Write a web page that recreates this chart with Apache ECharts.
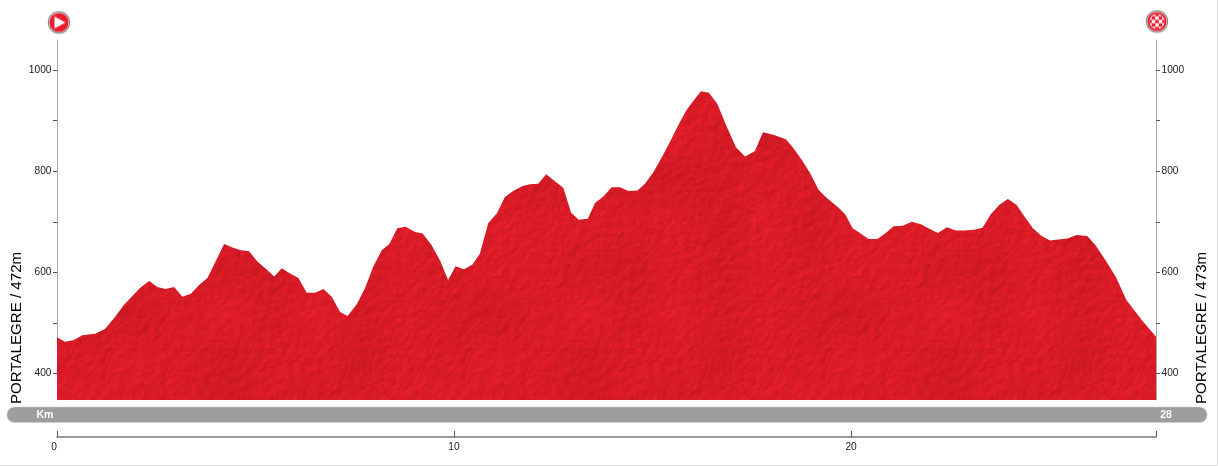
<!DOCTYPE html>
<html>
<head>
<meta charset="utf-8">
<style>html,body{margin:0;padding:0;background:#fff}#c{width:1218px;height:466px}</style>
<script src="https://cdn.jsdelivr.net/npm/echarts@6/dist/echarts.min.js"></script>
</head>
<body>
<div id="c"></div>
<script>
const km = [0,0.20,0.41,0.64,0.96,1.21,1.46,1.69,2.09,2.32,2.53,2.73,2.95,3.16,3.37,3.58,3.79,4.21,4.42,4.63,4.84,5.05,5.26,5.47,5.66,5.87,6.08,6.29,6.50,6.71,6.92,7.13,7.32,7.55,7.76,7.97,8.18,8.37,8.57,8.78,9.02,9.21,9.44,9.65,9.85,10.04,10.25,10.46,10.65,10.86,11.08,11.28,11.49,11.71,11.91,12.12,12.32,12.54,12.75,12.95,13.14,13.37,13.55,13.76,13.97,14.18,14.39,14.62,14.81,15.02,15.23,15.44,15.65,15.86,15.99,16.22,16.42,16.63,16.85,17.10,17.33,17.58,17.78,18.04,18.36,18.55,18.76,18.97,19.18,19.39,19.68,19.85,20.04,20.24,20.44,20.66,20.86,21.07,21.30,21.53,21.76,21.97,22.19,22.41,22.64,22.85,23.10,23.31,23.52,23.73,23.95,24.17,24.38,24.58,24.80,25.01,25.22,25.45,25.68,25.95,26.17,26.40,26.67,26.93,27.32,27.68];
const elevation = [472,463,466,476,479,488,512,536,569,583,571,567,571,552,558,575,589,656,649,644,642,621,607,592,608,598,589,560,560,567,552,522,514,537,569,612,644,656,687,690,680,677,653,623,585,612,606,615,637,697,717,749,761,770,774,775,794,780,767,718,704,706,737,750,768,768,761,762,775,798,827,858,891,921,935,958,955,933,891,847,829,840,877,872,863,845,822,796,763,747,728,715,687,677,666,666,677,691,692,700,695,686,678,689,683,683,684,688,715,733,745,733,709,687,672,663,665,667,674,672,652,625,591,546,506,473];
const yTicks = [400,500,600,700,800,900,1000];
const yLabels = [400,600,800,1000];
const kmTicks = [0,10,20];
const kmMax = 27.68;
const yMin = 348, yMax = 1059;
const startLabel = 'PORTALEGRE / 472m';
const endLabel = 'PORTALEGRE / 473m';
const barLeft = 'Km', barRight = '28';

const FONT = '"Liberation Sans", Arial, sans-serif';

// Decorative paper-grain tile for the profile fill (deterministic).
function makeTexture() {
  const W = 360, H = 360;
  const cv = document.createElement('canvas'); cv.width = W; cv.height = H;
  const ctx = cv.getContext('2d');
  let s = 12345;
  const rnd = () => (s = (s * 1664525 + 1013904223) >>> 0) / 4294967296;
  const field = (step) => {
    const cw = Math.ceil(W / step), ch = Math.ceil(H / step), g = [];
    for (let i = 0; i < cw * ch; i++) g.push(rnd());
    return (x, y) => {
      const fx = x / step, fy = y / step, ix = Math.floor(fx), iy = Math.floor(fy);
      let tx = fx - ix, ty = fy - iy;
      tx = tx * tx * (3 - 2 * tx); ty = ty * ty * (3 - 2 * ty);
      const at = (a, b) => g[((b + ch) % ch) * cw + ((a + cw) % cw)];
      return (at(ix, iy) * (1 - tx) + at(ix + 1, iy) * tx) * (1 - ty) + (at(ix, iy + 1) * (1 - tx) + at(ix + 1, iy + 1) * tx) * ty;
    };
  };
  const f1 = field(3), f2 = field(6), f3 = field(45), f4 = field(30);
  const img = ctx.createImageData(W, H);
  for (let y = 0; y < H; y++) for (let x = 0; x < W; x++) {
    const relief = (f1(x, y) - f1(x + 1, y + 1)) * 24 + (f2(x, y) - f2(x + 2, y + 2)) * 22;
    const crack = (Math.abs(f4(x, y) - 0.5) < 0.007 && f3(x, y) > 0.55) ? -10 : 0;
    const broad = (f3(x, y) - 0.5) * 14;
    const v = relief + crack + broad;
    const i = (y * W + x) * 4;
    img.data[i] = 215 + v;
    img.data[i + 1] = 27 + v * 0.25;
    img.data[i + 2] = 38 + v * 0.3;
    img.data[i + 3] = 255;
  }
  ctx.putImageData(img, 0, 0);
  return cv;
}

function makeStartIcon() {
  const cv = document.createElement('canvas'); cv.width = cv.height = 24;
  const c = cv.getContext('2d');
  c.beginPath(); c.arc(12, 12, 10.6, 0, Math.PI * 2); c.fillStyle = '#fff'; c.fill();
  c.lineWidth = 1.2; c.strokeStyle = '#8a8a8a'; c.stroke();
  c.beginPath(); c.arc(12, 12, 9.6, 0, Math.PI * 2); c.fillStyle = '#ed1c2a'; c.fill();
  c.beginPath(); c.moveTo(7.5, 6.0); c.lineTo(18.5, 12); c.lineTo(7.5, 18); c.closePath(); c.fillStyle = '#fff'; c.fill();
  return cv;
}
function makeFinishIcon() {
  const cv = document.createElement('canvas'); cv.width = cv.height = 24;
  const c = cv.getContext('2d');
  c.beginPath(); c.arc(12, 12, 10.6, 0, Math.PI * 2); c.fillStyle = '#fff'; c.fill();
  c.lineWidth = 1.2; c.strokeStyle = '#8a8a8a'; c.stroke();
  c.save(); c.beginPath(); c.arc(12, 12, 9.6, 0, Math.PI * 2); c.clip();
  c.fillStyle = '#ed1c2a'; c.fillRect(0, 0, 24, 24);
  c.save(); c.beginPath(); c.arc(12, 12, 7.6, 0, Math.PI * 2); c.clip();
  c.fillStyle = '#fff'; c.fillRect(0, 0, 24, 24);
  c.fillStyle = '#ed1c2a';
  for (let r = 0; r < 5; r++) for (let q = 0; q < 5; q++) if ((r + q) % 2 === 0) c.fillRect(3.25 + q * 3.5, 3.25 + r * 3.5, 3.5, 3.5);
  c.restore(); c.restore();
  return cv;
}

const chart = echarts.init(document.getElementById('c'), null, {renderer: 'canvas'});
const yAxisBase = {
  type: 'value', min: yMin, max: yMax,
  splitLine: {show: false},
  axisLine: {show: true, lineStyle: {color: '#aaaaaa', width: 1}},
  axisTick: {show: true, length: 4, customValues: yTicks, lineStyle: {color: '#555555', width: 1}},
  axisLabel: {show: true, customValues: yLabels, margin: 5.5, color: '#222', fontFamily: FONT, fontSize: 10.2, formatter: (v) => String(v)}
};
chart.setOption({
  animation: false,
  backgroundColor: '#fff',
  grid: {left: 57, right: 62, top: 40, bottom: 66},
  xAxis: {
    type: 'value', min: 0, max: kmMax, offset: 37,
    splitLine: {show: false},
    axisLine: {show: true, onZero: false, lineStyle: {color: '#777', width: 1.6}},
    axisTick: {show: true, inside: true, length: 6, customValues: kmTicks.concat([kmMax]), lineStyle: {color: '#555', width: 1}},
    axisLabel: {customValues: kmTicks, margin: 5, color: '#222', fontFamily: FONT, fontSize: 10.2, alignMinLabel: 'right', formatter: (v) => String(v)}
  },
  yAxis: [
    Object.assign({}, yAxisBase, {position: 'left'}),
    Object.assign({}, yAxisBase, {position: 'right'})
  ],
  series: [{
    type: 'line',
    data: km.map((k, i) => [k, elevation[i]]),
    symbol: 'none',
    lineStyle: {width: 0},
    areaStyle: {origin: 'start', opacity: 1, color: {image: makeTexture(), repeat: 'repeat'}},
    silent: true
  }],
  graphic: [
    {type: 'rect', shape: {x: 0, y: 465, width: 1218, height: 1}, style: {fill: '#dddddd'}, silent: true},
    {type: 'rect', shape: {x: 1217, y: 0, width: 1, height: 466}, style: {fill: '#dddddd'}, silent: true},
    {type: 'rect', shape: {x: 7, y: 407, width: 1200, height: 15.5, r: 7.5}, style: {fill: '#9d9d9c', stroke: '#c9c9c9', lineWidth: 0.6}, silent: true},
    {type: 'text', x: 45, y: 415, style: {text: barLeft, fill: '#fff', font: 'bold 10.5px ' + FONT, textAlign: 'center', textVerticalAlign: 'middle'}, silent: true},
    {type: 'text', x: 1166, y: 415, style: {text: barRight, fill: '#fff', font: 'bold 10.5px ' + FONT, textAlign: 'center', textVerticalAlign: 'middle'}, silent: true},
    {type: 'text', x: 17, y: 404, rotation: Math.PI / 2, style: {text: startLabel, fill: '#000', font: '15.1px ' + FONT, textAlign: 'left', textVerticalAlign: 'middle'}, silent: true},
    {type: 'text', x: 1202, y: 404, rotation: Math.PI / 2, style: {text: endLabel, fill: '#000', font: '15.1px ' + FONT, textAlign: 'left', textVerticalAlign: 'middle'}, silent: true},
    {type: 'image', x: 47, y: 10.5, style: {image: makeStartIcon(), width: 24, height: 24}, silent: true},
    {type: 'image', x: 1145, y: 9.5, style: {image: makeFinishIcon(), width: 24, height: 24}, silent: true}
  ]
});
</script>
</body>
</html>
